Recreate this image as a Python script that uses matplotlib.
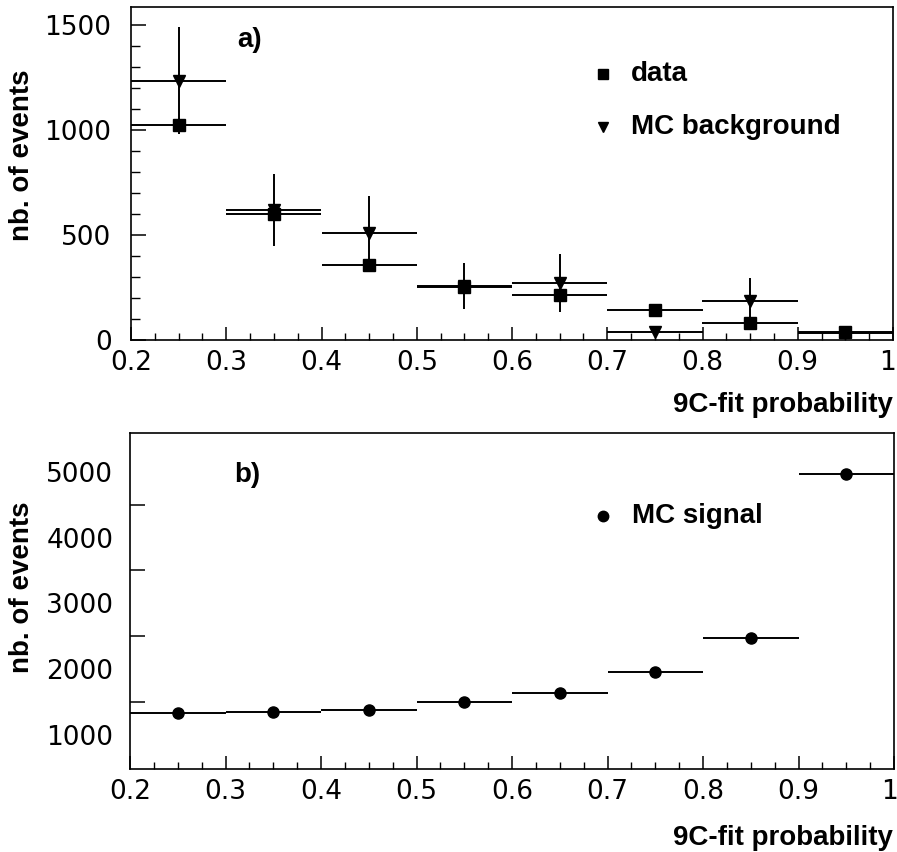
import matplotlib
matplotlib.use("Agg")
import matplotlib.pyplot as plt
import matplotlib.transforms as mtransforms
from matplotlib.ticker import MultipleLocator, FixedLocator

# ---- data ----
bin_centers = [0.25, 0.35, 0.45, 0.55, 0.65, 0.75, 0.85, 0.95]
bin_halfwidth = [0.05, 0.05, 0.05, 0.05, 0.05, 0.05, 0.05, 0.05]
data_vals = [1024, 600, 357, 252, 212, 145, 80, 40]
data_errs = [32, 24, 19, 16, 15, 12, 9, 6]
bkg_vals = [1235, 620, 508, 258, 272, 40, 187, 33]
bkg_errs = [255, 170, 178, 110, 137, 12, 110, 10]
sig_vals = [1330, 1345, 1380, 1494, 1634, 1962, 2470, 4967]
x_ticks = [0.2, 0.3, 0.4, 0.5, 0.6, 0.7, 0.8, 0.9, 1.0]
x_tick_labels = ["0.2", "0.3", "0.4", "0.5", "0.6", "0.7", "0.8", "0.9", "1"]
top_y_ticks = [0, 500, 1000, 1500]
bot_y_ticks = [1000, 2000, 3000, 4000, 5000]
bot_y_marks = [1500, 2500, 3500, 4500]

W, H = 897, 852
fig = plt.figure(figsize=(W / 100, H / 100), dpi=100)

tick_font = {"family": "DejaVu Sans", "size": 19}
bold_font = {"family": "Liberation Sans", "weight": "bold", "size": 20}

def px_axes(l, t, r, b):
    return fig.add_axes([l / W, 1 - b / H, (r - l) / W, (b - t) / H])

ax1 = px_axes(131, 7, 893, 340)
ax2 = px_axes(130, 433, 894, 769)

shift_left = mtransforms.ScaledTranslation(-5 / 100, 0, fig.dpi_scale_trans)

for ax in (ax1, ax2):
    for s in ax.spines.values():
        s.set_linewidth(1.2)
    ax.set_xlim(0.2, 1.0)
    ax.set_xticks(x_ticks)
    ax.set_xticklabels(x_tick_labels, fontdict=tick_font)
    ax.xaxis.set_minor_locator(MultipleLocator(0.025))
    ax.tick_params(axis="x", which="major", direction="in", length=9.5, width=1.1, pad=7,
                   top=False)
    ax.tick_params(axis="x", which="minor", direction="in", length=5, width=1.0, top=False)
    ax.tick_params(axis="y", right=False, which="both")
    last = ax.get_xticklabels()[-1]
    last.set_transform(last.get_transform() + shift_left)

# ---- panel a ----
ax1.errorbar(bin_centers, bkg_vals, yerr=bkg_errs, xerr=bin_halfwidth, fmt="v",
             color="black", ms=8.5, elinewidth=1.4, capsize=0)
ax1.errorbar(bin_centers, data_vals, yerr=data_errs, xerr=bin_halfwidth, fmt="s",
             color="black", ms=8, elinewidth=1.4, capsize=0)
ax1.set_ylim(0, 1586)
ax1.set_yticks(top_y_ticks)
ax1.set_yticklabels([str(v) for v in top_y_ticks], fontdict=tick_font)
ax1.yaxis.set_minor_locator(MultipleLocator(100))
ax1.tick_params(axis="y", which="major", direction="in", length=11, width=1.1, pad=14)
ax1.tick_params(axis="y", which="minor", direction="in", length=6.5, width=1.0)

ax1.text(0.156, 0.90, "a)", transform=ax1.transAxes, ha="center", va="center", **bold_font)
ax1.plot([0.619], [0.80], "s", color="black", ms=7, transform=ax1.transAxes)
ax1.plot([0.619], [0.64], "v", color="black", ms=6.5, transform=ax1.transAxes)
ax1.text(0.656, 0.80, "data", transform=ax1.transAxes, ha="left", va="center", **bold_font)
ax1.text(0.656, 0.64, "MC background", transform=ax1.transAxes, ha="left", va="center",
         **bold_font)

# ---- panel b ----
ax2.errorbar(bin_centers, sig_vals, xerr=bin_halfwidth, fmt="o", color="black", ms=8,
             elinewidth=1.4, capsize=0)
ax2.set_ylim(483, 5588)
ax2.set_yticks(bot_y_ticks)
ax2.set_yticklabels([str(v) for v in bot_y_ticks], fontdict=tick_font)
ax2.yaxis.set_minor_locator(FixedLocator(bot_y_marks))
ax2.tick_params(axis="y", which="major", length=0, pad=12)
ax2.tick_params(axis="y", which="minor", direction="in", length=11, width=1.1)

ax2.text(0.153, 0.875, "b)", transform=ax2.transAxes, ha="center", va="center", **bold_font)
ax2.plot([0.619], [0.753], "o", color="black", ms=7.5, transform=ax2.transAxes)
ax2.text(0.657, 0.753, "MC signal", transform=ax2.transAxes, ha="left", va="center",
         **bold_font)

# ---- axis labels ----
fig.text(893 / W, 1 - 405 / H, "9C-fit probability", ha="right", va="center", **bold_font)
fig.text(893 / W, 1 - 838 / H, "9C-fit probability", ha="right", va="center", **bold_font)
fig.text(22 / W, 1 - 155 / H, "nb. of events", rotation=90, ha="center", va="center",
         **bold_font)
fig.text(22 / W, 1 - 587 / H, "nb. of events", rotation=90, ha="center", va="center",
         **bold_font)

fig.savefig("out.png", dpi=100)
